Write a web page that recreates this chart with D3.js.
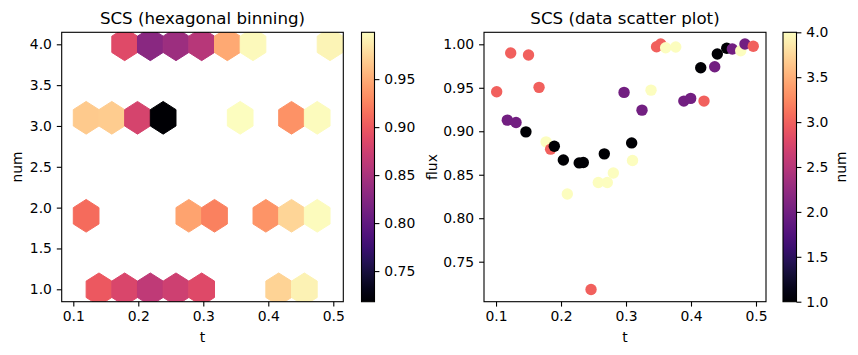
<!DOCTYPE html>
<html><head><meta charset="utf-8">
<script src="https://cdn.jsdelivr.net/npm/d3@7"></script>
<style>
html,body{margin:0;padding:0;background:#fff;}
text{font-family:"DejaVu Sans",sans-serif;fill:#000;}
</style></head>
<body><svg id="c" width="858" height="355"></svg>
<script>
// ---- scatter data (sorted by t) ----
const scatterT = [0.101,0.1174,0.1226,0.1308,0.146,0.150,0.1662,0.177,0.184,0.1897,0.2036,0.2097,0.228,0.2343,0.2462,0.2574,0.2666,0.2712,0.2805,0.297,0.3087,0.310,0.3246,0.3385,0.347,0.3534,0.361,0.3765,0.389,0.3995,0.415,0.42,0.4365,0.4405,0.455,0.4636,0.4765,0.483,0.4958];
const scatterFlux = [0.9454,0.9128,0.990,0.910,0.8993,0.9877,0.9505,0.8878,0.8794,0.8828,0.867,0.8279,0.8636,0.864,0.7181,0.841,0.874,0.841,0.852,0.9447,0.8866,0.8664,0.9243,0.9473,0.9972,1.0003,0.996,0.9969,0.9347,0.9378,0.973,0.9347,0.9742,0.9888,0.9954,0.9946,0.9926,1.0003,0.9977];
const scatterNum = [3,2,3,2,1,3,3,4,3,1,1,4,1,1,3,4,1,4,4,2,1,4,2,4,3,3,4,4,2,2,1,3,2,1,1,2,4,2,3];

// ---- hexbin cells (centre t, centre num, mean flux) ----
const hexT = [0.1395,0.179,0.2185,0.258,0.2975,0.416,0.4555,
              0.11975,0.27775,0.31725,0.39625,0.43575,0.47525,
              0.11975,0.15925,0.19875,0.23825,0.35675,0.43575,0.47525,
              0.179,0.2185,0.258,0.2975,0.337,0.3765,0.495];
const hexNum = [1,1,1,1,1,1,1,
                1.9,1.9,1.9,1.9,1.9,1.9,
                3.1,3.1,3.1,3.1,3.1,3.1,3.1,
                4,4,4,4,4,4,4];
const hexFlux = [0.8993,0.8828,0.8649,0.874,0.8866,0.973,0.9921,
                 0.9114,0.9447,0.9243,0.9363,0.9742,0.9975,
                 0.9677,0.9691,0.8794,0.7181,0.9988,0.9347,0.9977,
                 0.8878,0.8279,0.841,0.8592,0.9473,0.9965,0.9926];
const hexSx = 0.0395, hexSy = 0.6;

const xTicks = [0.1,0.2,0.3,0.4,0.5];
const yTicksL = [1.0,1.5,2.0,2.5,3.0,3.5,4.0];
const yTicksR = [0.75,0.80,0.85,0.90,0.95,1.00];
const cbTicksL = [0.75,0.80,0.85,0.90,0.95];
const cbTicksR = [1.0,1.5,2.0,2.5,3.0,3.5,4.0];

const svg = d3.select("#c");
const TS = 13.9, TL = 16.67, tick = 4.9, pad = 4.9;

const L = {x0:61.7,x1:343.3,y0:32.3,y1:301.7};
const R = {x0:484,x1:766,y0:32.3,y1:301.7};

const xL = d3.scaleLinear().domain([0.08215,0.5154]).range([L.x0,L.x1]);
const yL = d3.scaleLinear().domain([0.848,4.147]).range([L.y1,L.y0]);
const xR = d3.scaleLinear().domain([0.0815,0.5154]).range([R.x0,R.x1]);
const yR = d3.scaleLinear().domain([0.704,1.0138]).range([R.y1,R.y0]);

const vmin = d3.min(hexFlux), vmax = d3.max(hexFlux);
const cHex = d3.scaleSequential(d3.interpolateMagma).domain([vmin,vmax]);
const cNum = d3.scaleSequential(d3.interpolateMagma).domain([1,4]);

const defs = svg.append("defs");
defs.append("clipPath").attr("id","clipL").append("rect")
  .attr("x",L.x0).attr("y",L.y0).attr("width",L.x1-L.x0).attr("height",L.y1-L.y0);

// hexes
const gH = svg.append("g").attr("clip-path","url(#clipL)");
hexT.forEach((t,i)=>{
  const n = hexNum[i];
  const pts = [[t+hexSx/2,n-hexSy/6],[t+hexSx/2,n+hexSy/6],[t,n+hexSy/3],
               [t-hexSx/2,n+hexSy/6],[t-hexSx/2,n-hexSy/6],[t,n-hexSy/3]]
    .map(p=>[xL(p[0]),yL(p[1])]);
  const col = cHex(hexFlux[i]);
  gH.append("path").attr("d","M"+pts.join("L")+"Z")
    .attr("fill",col).attr("stroke",col).attr("stroke-width",1);
});

// scatter
const gS = svg.append("g");
scatterT.forEach((t,i)=>{
  gS.append("circle").attr("cx",xR(t)).attr("cy",yR(scatterFlux[i]))
    .attr("r",5.7).attr("fill",cNum(scatterNum[i]));
});

function styleAxis(g){
  g.select(".domain").remove();
  g.selectAll("line").attr("stroke","#000").attr("stroke-width",1.1);
  g.selectAll("text").attr("font-size",TS).attr("font-family","DejaVu Sans").attr("fill","#000");
}
function frame(B){
  svg.append("rect").attr("x",B.x0).attr("y",B.y0).attr("width",B.x1-B.x0).attr("height",B.y1-B.y0)
    .attr("fill","none").attr("stroke","#000").attr("stroke-width",1.1);
}

// left axes
svg.append("g").attr("transform",`translate(0,${L.y1})`)
  .call(d3.axisBottom(xL).tickValues(xTicks).tickFormat(d3.format(".1f")).tickSize(tick).tickPadding(pad)).call(styleAxis);
svg.append("g").attr("transform",`translate(${L.x0},0)`)
  .call(d3.axisLeft(yL).tickValues(yTicksL).tickFormat(d3.format(".1f")).tickSize(tick).tickPadding(pad)).call(styleAxis);
frame(L);
// right axes
svg.append("g").attr("transform",`translate(0,${R.y1})`)
  .call(d3.axisBottom(xR).tickValues(xTicks).tickFormat(d3.format(".1f")).tickSize(tick).tickPadding(pad)).call(styleAxis);
svg.append("g").attr("transform",`translate(${R.x0},0)`)
  .call(d3.axisLeft(yR).tickValues(yTicksR).tickFormat(d3.format(".2f")).tickSize(tick).tickPadding(pad)).call(styleAxis);
frame(R);

// titles & labels
svg.append("text").attr("x",(L.x0+L.x1)/2).attr("y",24).attr("text-anchor","middle").attr("font-size",TL).text("SCS (hexagonal binning)");
svg.append("text").attr("x",(R.x0+R.x1)/2).attr("y",24).attr("text-anchor","middle").attr("font-size",TL).text("SCS (data scatter plot)");
svg.append("text").attr("x",(L.x0+L.x1)/2).attr("y",342).attr("text-anchor","middle").attr("font-size",TS).text("t");
svg.append("text").attr("x",(R.x0+R.x1)/2).attr("y",342).attr("text-anchor","middle").attr("font-size",TS).text("t");
svg.append("text").attr("transform",`translate(22,${(L.y0+L.y1)/2}) rotate(-90)`).attr("text-anchor","middle").attr("font-size",TS).text("num");
svg.append("text").attr("transform",`translate(437,${(R.y0+R.y1)/2}) rotate(-90)`).attr("text-anchor","middle").attr("font-size",TS).text("flux");

// colorbars
function colorbar(id,x0,x1,scale,interp,dom,ticks,fmt,label){
  const gr = defs.append("linearGradient").attr("id",id).attr("x1",0).attr("y1",1).attr("x2",0).attr("y2",0);
  d3.range(0,1.0001,0.05).forEach(s=>gr.append("stop").attr("offset",s).attr("stop-color",interp(s)));
  svg.append("rect").attr("x",x0).attr("y",L.y0).attr("width",x1-x0).attr("height",L.y1-L.y0).attr("fill",`url(#${id})`);
  const ys = d3.scaleLinear().domain(dom).range([L.y1,L.y0]);
  svg.append("g").attr("transform",`translate(${x1},0)`)
    .call(d3.axisRight(ys).tickValues(ticks).tickFormat(fmt).tickSize(tick).tickPadding(pad)).call(styleAxis);
  svg.append("rect").attr("x",x0).attr("y",L.y0).attr("width",x1-x0).attr("height",L.y1-L.y0)
    .attr("fill","none").attr("stroke","#000").attr("stroke-width",1.1);
  if(label){
    svg.append("text").attr("transform",`translate(846,${(L.y0+L.y1)/2}) rotate(-90)`).attr("text-anchor","middle").attr("font-size",TS).text(label);
  }
}
colorbar("gL",361.5,374.5,cHex,d3.interpolateMagma,[vmin,vmax],cbTicksL,d3.format(".2f"),null);
colorbar("gR",783,796.5,cNum,d3.interpolateMagma,[1,4],cbTicksR,d3.format(".1f"),"num");
</script></body></html>
